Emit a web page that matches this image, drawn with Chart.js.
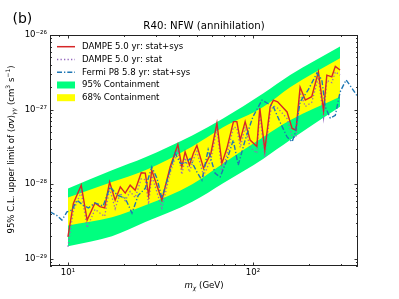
<!DOCTYPE html>
<html>
<head>
<meta charset="utf-8">
<script src="https://cdn.jsdelivr.net/npm/chart.js@4.4.0/dist/chart.umd.min.js"></script>
<style>
html, body { margin: 0; padding: 0; background: #fff; }
canvas { display: block; }
</style>
</head>
<body>
<canvas id="chart" width="399" height="299"></canvas>
<script>
// DAMPE limits (GeV, cm^3 s^-1)
const dampeMass = [10, 10.7, 11.8, 12.7, 14.0, 14.9, 15.8, 16.8, 18.0, 19.2, 20.4, 21.7, 23.1, 24.9, 26.2, 27.3, 28.4, 32.2, 35.7, 39.3, 41.3, 43.0, 45.4, 47.7, 49.8, 54.1, 59.3, 63.9, 68.0, 72.3, 78.5, 81.9, 85.4, 90.8, 96.6, 105, 109, 116, 124, 129, 136, 153, 163, 171, 180, 192, 208, 226, 241, 251, 267, 279, 296];
const dampeStatSys = [1.96e-29, 5.5e-29, 9.7e-29, 3.3e-29, 5.6e-29, 5.0e-29, 4.8e-29, 1.07e-28, 6.1e-29, 9.2e-29, 7.6e-29, 9.7e-29, 8.3e-29, 1.42e-28, 1.41e-28, 7.1e-29, 1.54e-28, 6.1e-29, 1.7e-28, 3.4e-28, 1.7e-28, 2.7e-28, 1.8e-28, 2.6e-28, 3.3e-28, 1.64e-28, 2.6e-28, 6.6e-28, 1.9e-28, 3.0e-28, 6.9e-28, 6.9e-28, 3.9e-28, 6.9e-28, 3.9e-28, 3.2e-28, 1.05e-27, 2.9e-28, 1.09e-27, 1.34e-27, 1.27e-27, 9.3e-28, 5.6e-28, 5.3e-28, 2.0e-27, 1.34e-27, 1.49e-27, 3.2e-27, 9.8e-28, 2.9e-27, 2.75e-27, 3.8e-27, 3.4e-27];
const dampeStat = [1.45e-29, 4.4e-29, 7.9e-29, 2.6e-29, 4.6e-29, 4.1e-29, 3.7e-29, 8.8e-29, 4.7e-29, 7.6e-29, 6.0e-29, 8.0e-29, 6.6e-29, 1.18e-28, 1.15e-28, 5.4e-29, 1.3e-28, 4.8e-29, 1.42e-28, 2.9e-28, 1.35e-28, 2.25e-28, 1.45e-28, 2.15e-28, 2.75e-28, 1.3e-28, 2.15e-28, 5.6e-28, 1.5e-28, 2.45e-28, 5.8e-28, 5.7e-28, 3.1e-28, 5.8e-28, 3.1e-28, 2.6e-28, 8.9e-28, 2.3e-28, 9.2e-28, 1.12e-27, 1.05e-27, 7.6e-28, 4.4e-28, 4.2e-28, 1.7e-27, 1.1e-27, 1.25e-27, 2.7e-27, 7.8e-28, 2.45e-27, 2.3e-27, 3.2e-27, 2.9e-27];

// Fermi P8 limits
const fermiMass = [8.02, 8.72, 9.28, 9.88, 10.5, 11.2, 12.1, 12.9, 14.0, 15.5, 16.9, 18.5, 20.4, 22.2, 24.0, 26.2, 28.4, 30.3, 32.2, 35.7, 38.0, 40.5, 43.0, 45.8, 49.8, 53.0, 57.3, 62.5, 66.5, 72.3, 78.3, 83.3, 90.8, 100, 112, 129, 141, 153, 163, 169, 180, 199, 222, 236, 246, 262, 279, 296, 319, 340, 370];
const fermiStatSys = [4.25e-29, 3.8e-29, 3.3e-29, 4.25e-29, 4.5e-29, 6.1e-29, 5.2e-29, 4.8e-29, 5.6e-29, 5.1e-29, 9.2e-29, 7.1e-29, 6.5e-29, 4.1e-29, 7.1e-29, 8.8e-29, 1.7e-28, 1.2e-28, 6.5e-29, 1.54e-28, 2.6e-28, 1.9e-28, 1.9e-28, 2.2e-28, 1.46e-28, 1.13e-28, 2.9e-28, 1.4e-28, 1.25e-28, 2.1e-28, 3.9e-28, 1.8e-28, 3.9e-28, 8.0e-28, 1.34e-27, 1.09e-27, 6.6e-28, 4.3e-28, 3.7e-28, 4.8e-28, 1.27e-27, 1.83e-27, 3.1e-27, 2.5e-27, 1.09e-27, 7.7e-28, 8.4e-28, 1.72e-27, 2.5e-27, 2.0e-27, 1.47e-27];

// expected sensitivity bands
const bandMass = [10, 17.3, 26.2, 47, 69, 114, 159, 296];
const green95Upper = [8.75e-29, 1.54e-28, 2.3e-28, 4.5e-28, 7.6e-28, 1.65e-27, 2.9e-27, 7.0e-27];
const yellow68Upper = [6.6e-29, 1.07e-28, 1.54e-28, 3.2e-28, 5.8e-28, 1.09e-27, 2.0e-27, 4.9e-27];
const yellow68Lower = [2.8e-29, 3.6e-29, 5.2e-29, 1.0e-28, 1.9e-28, 4.3e-28, 7.2e-28, 1.49e-27];
const green95Lower = [1.47e-29, 2.0e-29, 3.1e-29, 5.8e-29, 1.03e-28, 2.2e-28, 3.9e-28, 1.09e-27];

const xTickValues = [10, 100];
const yTickValues = [1e-29, 1e-28, 1e-27, 1e-26];
const legendLabels = ["DAMPE 5.0 yr: stat+sys", "DAMPE 5.0 yr: stat", "Fermi P8 5.8 yr: stat+sys", "95% Containment", "68% Containment"];

const FONT = "'DejaVu Sans', sans-serif";
const RED = "#d62728", PURPLE = "#9467bd", BLUE = "#1f77b4", GREEN = "#00ff7f", YELLOW = "#ffff00";
const DOTTED = [1.3, 2.2];
const DASHDOT = [5, 2, 1.3, 2];

const toPoints = (xs, ys) => xs.map((x, i) => ({ x: x, y: ys[i] }));
const supMap = { "-": "\u207b", "0": "\u2070", "1": "\u00b9", "2": "\u00b2", "3": "\u00b3", "4": "\u2074", "5": "\u2075", "6": "\u2076", "7": "\u2077", "8": "\u2078", "9": "\u2079" };
const powLabel = (v) => "10" + String(Math.round(Math.log10(v))).split("").map((c) => supMap[c]).join("");

function partFont(p, size) {
    const s = p.sub || p.sup ? size * 0.7 : size;
    return (p.it ? "italic " : "") + s + "px " + FONT;
}

// draws a string made of pieces (italic, sub, sup) centered on x, baseline y
function drawRich(ctx, parts, x, y, size) {
    let total = 0;
    parts.forEach((p) => {
        ctx.font = partFont(p, size);
        p.w = ctx.measureText(p.t).width;
        total += p.w;
    });
    let cx = x - total / 2;
    ctx.textAlign = "left";
    ctx.textBaseline = "alphabetic";
    parts.forEach((p) => {
        ctx.font = partFont(p, size);
        const dy = p.sub ? size * 0.22 : p.sup ? -size * 0.42 : 0;
        ctx.fillText(p.t, cx, y + dy);
        cx += p.w;
    });
}

const decor = {
    id: "decor",
    afterDraw(chart) {
        const ctx = chart.ctx;
        const a = chart.chartArea;
        const xs = chart.scales.x, ys = chart.scales.y;
        ctx.save();

        // inward ticks
        ctx.strokeStyle = "#000";
        ctx.lineWidth = 0.8;
        ctx.beginPath();
        for (let d = -30; d <= -26; d++) {
            for (let k = 1; k <= 9; k++) {
                const v = k * Math.pow(10, d);
                if (v < ys.min || v > ys.max * 1.0001) continue;
                const py = Math.round(ys.getPixelForValue(v)) + 0.5;
                const len = k === 1 ? 3.5 : 2;
                ctx.moveTo(a.left, py); ctx.lineTo(a.left + len, py);
                ctx.moveTo(a.right, py); ctx.lineTo(a.right - len, py);
            }
        }
        for (let d = 0; d <= 2; d++) {
            for (let k = 1; k <= 9; k++) {
                const v = k * Math.pow(10, d);
                if (v < xs.min || v > xs.max) continue;
                const px = Math.round(xs.getPixelForValue(v)) + 0.5;
                const len = k === 1 ? 3.5 : 2;
                ctx.moveTo(px, a.bottom); ctx.lineTo(px, a.bottom - len);
                ctx.moveTo(px, a.top); ctx.lineTo(px, a.top + len);
            }
        }
        ctx.stroke();

        // frame
        ctx.strokeStyle = "#222";
        ctx.lineWidth = 1;
        ctx.strokeRect(a.left + 0.5, a.top + 0.5, a.right - a.left - 1, a.bottom - a.top - 1);

        ctx.fillStyle = "#000";
        // panel letter and title
        ctx.font = "14px " + FONT;
        ctx.textAlign = "left";
        ctx.textBaseline = "middle";
        ctx.fillText("(b)", 12.5, 19);
        ctx.font = "10.2px " + FONT;
        ctx.textAlign = "center";
        ctx.fillText("R40: NFW (annihilation)", (a.left + a.right) / 2, 26);

        // x axis title
        drawRich(ctx, [
            { t: "m", it: true },
            { t: "\u03c7", it: true, sub: true },
            { t: " (GeV)" },
        ], (a.left + a.right) / 2, 288, 8.6);

        // y axis title
        ctx.save();
        ctx.translate(14, (a.top + a.bottom) / 2 - 1);
        ctx.rotate(-Math.PI / 2);
        drawRich(ctx, [
            { t: "95% C.L. upper limit of " },
            { t: "\u27e8" },
            { t: "\u03c3v", it: true },
            { t: "\u27e9" },
            { t: "\u03b3\u03b3", it: true, sub: true },
            { t: " (cm" },
            { t: "3", sup: true },
            { t: " s" },
            { t: "\u22121", sup: true },
            { t: ")" },
        ], 0, 0, 8.6);
        ctx.restore();

        // legend
        const rows = [46.7, 59.5, 72.3, 85, 97.7];
        const x0 = 57, x1 = 75;
        ctx.lineWidth = 1.5;
        const lineRow = (y, color, dash) => {
            ctx.strokeStyle = color;
            ctx.setLineDash(dash);
            ctx.beginPath();
            ctx.moveTo(x0, y); ctx.lineTo(x1, y);
            ctx.stroke();
        };
        lineRow(rows[0], RED, []);
        lineRow(rows[1], PURPLE, DOTTED);
        lineRow(rows[2], BLUE, DASHDOT);
        ctx.setLineDash([]);
        ctx.fillStyle = GREEN;
        ctx.fillRect(x0, rows[3] - 3.5, x1 - x0, 7);
        ctx.fillStyle = YELLOW;
        ctx.fillRect(x0, rows[4] - 3.5, x1 - x0, 7);
        ctx.fillStyle = "#000";
        ctx.font = "8.6px " + FONT;
        ctx.textAlign = "left";
        ctx.textBaseline = "middle";
        legendLabels.forEach((t, i) => ctx.fillText(t, 82, rows[i]));

        ctx.restore();
    },
};

const tickFont = { family: FONT, size: 8.6 };
const bandStyle = { borderColor: "rgba(0,0,0,0)", borderWidth: 0, cubicInterpolationMode: "monotone" };

new Chart(document.getElementById("chart"), {
    type: "line",
    data: {
        datasets: [
            { label: legendLabels[0], data: toPoints(dampeMass, dampeStatSys), borderColor: RED, borderWidth: 1.4, fill: false, order: 2 },
            { label: legendLabels[1], data: toPoints(dampeMass, dampeStat), borderColor: PURPLE, borderWidth: 1.3, borderDash: DOTTED, fill: false, order: 3 },
            { label: legendLabels[2], data: toPoints(fermiMass, fermiStatSys), borderColor: BLUE, borderWidth: 1.4, borderDash: DASHDOT, fill: false, order: 1 },
            { label: "68% upper", data: toPoints(bandMass, yellow68Upper), ...bandStyle, backgroundColor: YELLOW, fill: "+1", order: 10 },
            { label: "68% lower", data: toPoints(bandMass, yellow68Lower), ...bandStyle, fill: false, order: 11 },
            { label: "95% upper", data: toPoints(bandMass, green95Upper), ...bandStyle, backgroundColor: GREEN, fill: "+1", order: 20 },
            { label: "95% lower", data: toPoints(bandMass, green95Lower), ...bandStyle, fill: false, order: 21 },
        ],
    },
    options: {
        responsive: false,
        animation: false,
        devicePixelRatio: 1,
        layout: { padding: { left: 0, right: 41, top: 35, bottom: 0 } },
        elements: { line: { tension: 0 }, point: { radius: 0 } },
        plugins: {
            legend: { display: false },
            tooltip: { enabled: false },
        },
        scales: {
            x: {
                type: "logarithmic",
                min: 8,
                max: 370,
                grid: { display: false, drawTicks: false },
                border: { display: false },
                afterBuildTicks: (s) => { s.ticks = xTickValues.map((v) => ({ value: v })); },
                afterFit: (s) => { s.height = 33; },
                ticks: { callback: (v) => powLabel(v), font: tickFont, color: "#000", padding: 2, maxRotation: 0, autoSkip: false },
            },
            y: {
                type: "logarithmic",
                min: 8e-30,
                max: 1e-26,
                grid: { display: false, drawTicks: false },
                border: { display: false },
                afterBuildTicks: (s) => { s.ticks = yTickValues.map((v) => ({ value: v })); },
                afterFit: (s) => { s.width = 50; },
                ticks: { callback: (v) => powLabel(v), font: tickFont, color: "#000", padding: 3, autoSkip: false },
            },
        },
    },
    plugins: [decor],
});
</script>
</body>
</html>
